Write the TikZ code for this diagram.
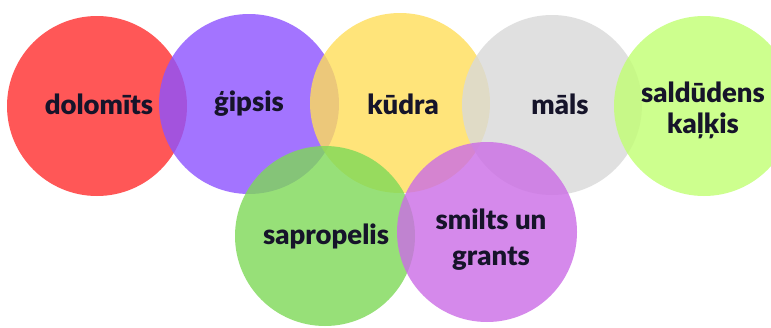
\documentclass[tikz,border=0pt]{standalone}
\usepackage{fontspec}
\setmainfont{Lato}[BoldFont={Lato Black}]
\definecolor{cred}{HTML}{FF5757}
\definecolor{cpurple}{HTML}{8C52FF}
\definecolor{cyellow}{HTML}{FFDE59}
\definecolor{cgrey}{HTML}{D9D9D9}
\definecolor{clime}{HTML}{C1FF72}
\definecolor{cgreen}{HTML}{7ED957}
\definecolor{cviolet}{HTML}{CB6CE6}
\definecolor{ctext}{HTML}{16142A}
\tikzset{
  disc/.style={circle, inner sep=0pt, minimum size=180pt, draw=none, fill opacity=0.8},
  lbl/.style={font=\fontsize{27.5}{31}\selectfont\bfseries, text=ctext, align=center, inner sep=0pt}
}
\begin{document}
\begin{tikzpicture}[x=1pt,y=-1pt]
\useasboundingbox (0,0) rectangle (771,327);
\fill[white] (0,0) rectangle (771,327);
\begin{scope}
\clip (0,0) rectangle (771,327);
\node[disc, fill=cred, fill opacity=1] (red) at (97,106) {};
\node[disc, fill=cpurple] (purple) at (249,104) {};
\node[disc, fill=cyellow] (yellow) at (400,103) {};
\node[disc, fill=cgrey] (grey) at (552,105) {};
\node[disc, fill=clime] (lime) at (704,106) {};
\node[disc, fill=cgreen] (green) at (325,236) {};
\node[disc, fill=cviolet] (violet) at (487,232) {};
\end{scope}
\node[lbl] (t1) at (99,104) {dolomīts};
\node[lbl] (t2) at (249,104) {ģipsis};
\node[lbl] (t3) at (403,104) {kūdra};
\node[lbl] (t4) at (560,104) {māls};
\node[lbl] (t5) at (703,110) {saldūdens\\kaļķis};
\node[lbl] (t6) at (326,236) {sapropelis};
\node[lbl, font=\fontsize{27.5}{36}\selectfont\bfseries] (t7) at (491,240) {smilts un\\grants};
\end{tikzpicture}
\end{document}
